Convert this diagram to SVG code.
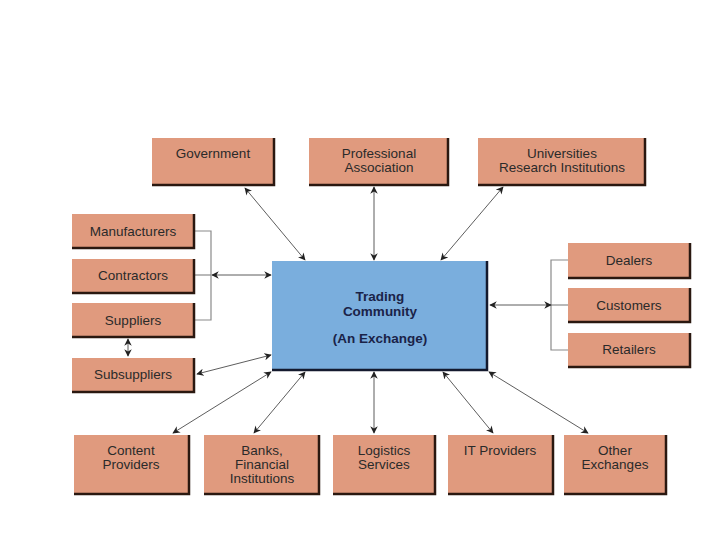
<svg xmlns="http://www.w3.org/2000/svg" width="720" height="540" viewBox="0 0 720 540">
<defs>
<style>
.box{fill:#e09a7e;}
.shd{fill:none;stroke:#2a1810;stroke-width:2.5;}
.hub{fill:#7aaedd;}
.hshd{fill:none;stroke:#141a2e;stroke-width:2.5;}
.t{font-family:"Liberation Sans",Arial,sans-serif;font-size:13.5px;fill:#2a2a2a;text-anchor:middle;}
.ht{font-family:"Liberation Sans",Arial,sans-serif;font-size:13.5px;font-weight:bold;fill:#1a2348;text-anchor:middle;}
.c{fill:none;stroke:#333;stroke-width:0.8;marker-start:url(#a);marker-end:url(#a);}
.b{fill:none;stroke:#8a8a8a;stroke-width:1.2;}
</style>
<marker id="a" viewBox="0 0 10 10" refX="9" refY="5" markerWidth="7.5" markerHeight="7.5" markerUnits="userSpaceOnUse" orient="auto-start-reverse">
<path d="M0,0 L10,5 L0,10 L3,5 Z" fill="#222"/>
</marker>
</defs>
<rect width="720" height="540" fill="#fff"/>

<g id="connectors">
<line class="c" x1="245" y1="188" x2="305" y2="260"/>
<line class="c" x1="374" y1="187" x2="374" y2="260"/>
<line class="c" x1="503" y1="187" x2="441" y2="260"/>
<polyline class="b" points="195,231 211,231 211,320 195,320"/>
<line class="b" x1="195" y1="275" x2="211" y2="275"/>
<line class="c" x1="212" y1="275" x2="271" y2="275"/>
<line class="c" x1="128" y1="339" x2="128" y2="356"/>
<line class="c" x1="197" y1="374" x2="271" y2="355"/>
<polyline class="b" points="568,260 551,260 551,350 568,350"/>
<line class="b" x1="551" y1="305" x2="568" y2="305"/>
<line class="c" x1="490" y1="305" x2="551" y2="305"/>
<line class="c" x1="271" y1="372" x2="173" y2="433"/>
<line class="c" x1="305" y1="372" x2="254" y2="433"/>
<line class="c" x1="374" y1="372" x2="374" y2="433"/>
<line class="c" x1="443" y1="372" x2="493" y2="433"/>
<line class="c" x1="489" y1="372" x2="588" y2="433"/>
</g>

<g id="hub">
<rect class="hub" x="272" y="261" width="215" height="109"/>
<polyline class="hshd" points="487,261 487,370 272,370"/>
<text class="ht" x="380" y="301">Trading</text>
<text class="ht" x="380" y="316">Community</text>
<text class="ht" x="380" y="343">(An Exchange)</text>
</g>

<g id="government">
<rect class="box" x="152" y="138" width="122" height="47"/>
<polyline class="shd" points="274,138 274,185 152,185"/>
<text class="t" x="213" y="158">Government</text>
</g>
<g id="professional">
<rect class="box" x="309" y="138" width="139" height="47"/>
<polyline class="shd" points="448,138 448,185 309,185"/>
<text class="t" x="379" y="158">Professional</text>
<text class="t" x="379" y="172">Association</text>
</g>
<g id="universities">
<rect class="box" x="478" y="138" width="167" height="47"/>
<polyline class="shd" points="645,138 645,185 478,185"/>
<text class="t" x="562" y="158">Universities</text>
<text class="t" x="562" y="172">Research Institutions</text>
</g>

<g id="manufacturers">
<rect class="box" x="72" y="214" width="122" height="34"/>
<polyline class="shd" points="194,214 194,248 72,248"/>
<text class="t" x="133" y="236">Manufacturers</text>
</g>
<g id="contractors">
<rect class="box" x="72" y="259" width="122" height="34"/>
<polyline class="shd" points="194,259 194,293 72,293"/>
<text class="t" x="133" y="280">Contractors</text>
</g>
<g id="suppliers">
<rect class="box" x="72" y="303" width="122" height="34"/>
<polyline class="shd" points="194,303 194,337 72,337"/>
<text class="t" x="133" y="325">Suppliers</text>
</g>
<g id="subsuppliers">
<rect class="box" x="72" y="358" width="122" height="34"/>
<polyline class="shd" points="194,358 194,392 72,392"/>
<text class="t" x="133" y="379">Subsuppliers</text>
</g>

<g id="dealers">
<rect class="box" x="568" y="243" width="122" height="35"/>
<polyline class="shd" points="690,243 690,278 568,278"/>
<text class="t" x="629" y="265">Dealers</text>
</g>
<g id="customers">
<rect class="box" x="568" y="288" width="122" height="34"/>
<polyline class="shd" points="690,288 690,322 568,322"/>
<text class="t" x="629" y="310">Customers</text>
</g>
<g id="retailers">
<rect class="box" x="568" y="333" width="122" height="34"/>
<polyline class="shd" points="690,333 690,367 568,367"/>
<text class="t" x="629" y="354">Retailers</text>
</g>

<g id="content">
<rect class="box" x="74" y="435" width="115" height="59"/>
<polyline class="shd" points="189,435 189,494 74,494"/>
<text class="t" x="131" y="455">Content</text>
<text class="t" x="131" y="469">Providers</text>
</g>
<g id="banks">
<rect class="box" x="204" y="435" width="115" height="59"/>
<polyline class="shd" points="319,435 319,494 204,494"/>
<text class="t" x="262" y="455">Banks,</text>
<text class="t" x="262" y="469">Financial</text>
<text class="t" x="262" y="483">Institutions</text>
</g>
<g id="logistics">
<rect class="box" x="333" y="435" width="102" height="59"/>
<polyline class="shd" points="435,435 435,494 333,494"/>
<text class="t" x="384" y="455">Logistics</text>
<text class="t" x="384" y="469">Services</text>
</g>
<g id="it">
<rect class="box" x="448" y="435" width="105" height="59"/>
<polyline class="shd" points="553,435 553,494 448,494"/>
<text class="t" x="500" y="455">IT Providers</text>
</g>
<g id="other">
<rect class="box" x="564" y="435" width="102" height="59"/>
<polyline class="shd" points="666,435 666,494 564,494"/>
<text class="t" x="615" y="455">Other</text>
<text class="t" x="615" y="469">Exchanges</text>
</g>
</svg>
